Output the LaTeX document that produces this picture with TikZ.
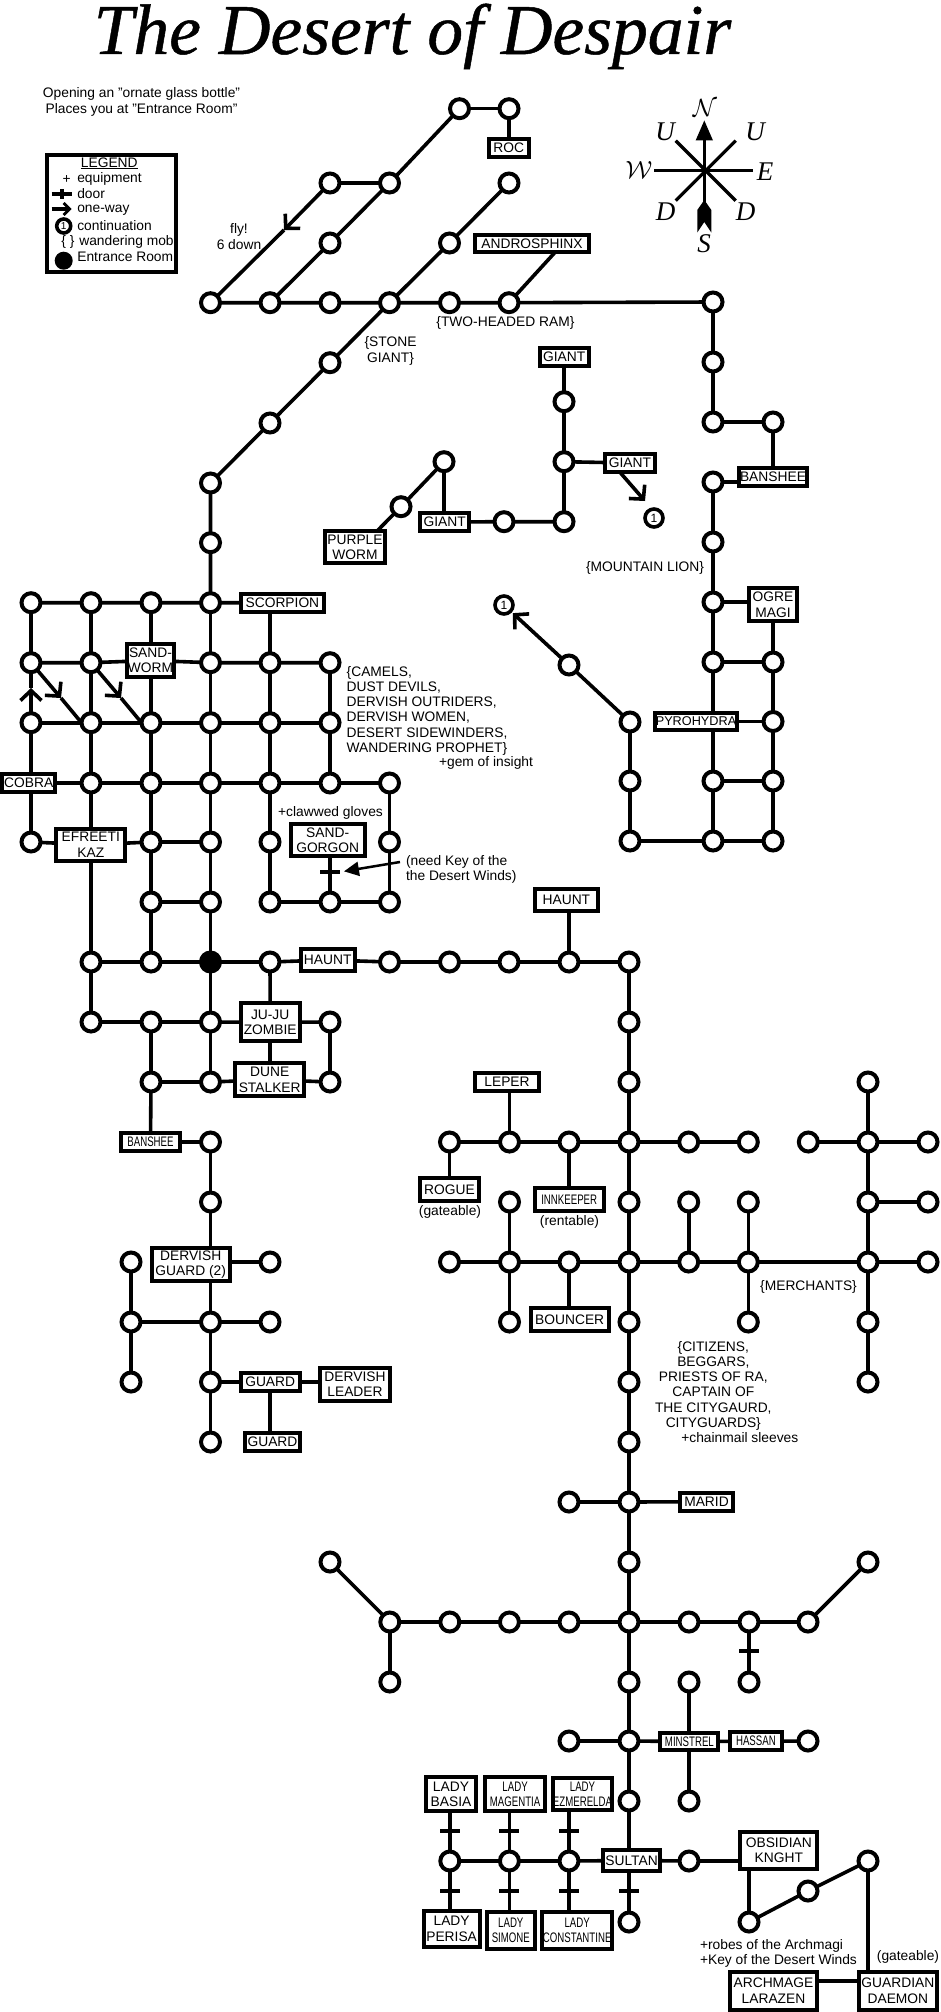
\documentclass[tikz,border=0pt]{standalone}
\usepackage{fontspec}
\usepackage{tikz}
\usetikzlibrary{arrows.meta}
\setmainfont{Liberation Sans}
\newfontfamily\titlefont{Liberation Serif}
\newfontfamily\bannerfont[ItalicFeatures={FakeBold=0.7}]{Liberation Serif}
\newfontfamily\narrowfont[FakeStretch=0.7]{Liberation Sans}
\newcommand{\mapfont}{\fontsize{13.8}{15.3}\selectfont}
\newcommand{\slimfont}{\narrowfont\fontsize{13.8}{15.3}\selectfont}

\begin{document}
\begin{tikzpicture}[x=1pt, y=-1pt,
    room/.style={circle, draw, line width=4pt, fill=white, minimum size=19pt, inner sep=0pt, outer sep=0pt},
    entrance/.style={room, fill=black},
    cont/.style={circle, draw, line width=3.6pt, fill=white, minimum size=18pt, inner sep=0pt, outer sep=0pt, font=\fontsize{12}{12}\selectfont},
    mob/.style={rectangle, draw, line width=4pt, fill=white, inner sep=0pt, outer sep=0pt, align=center, font=\mapfont},
    slim/.style={font=\slimfont},
    door/.style={rectangle, fill=black, minimum width=20pt, minimum height=3.6pt, inner sep=0pt, outer sep=0pt},
    note/.style={inner sep=0pt, outer sep=0pt, align=center, font=\mapfont},
    compassmark/.style={inner sep=0pt, font=\titlefont\itshape\fontsize{27}{27}\selectfont},
    link/.style={line width=3.6pt},
    oneway/.style={-{Straight Barb[length=10pt,width=21pt,line width=3.6pt]}}
]
\useasboundingbox (0,0) rectangle (940,2012);

% title and notes
\node[inner sep=0pt, anchor=base, font=\bannerfont\itshape\fontsize{71.5}{72}\selectfont] (title) at (412.5,54) {The Desert of Despair};
\node[note] (bottle) at (141.5,102) {Opening an "ornate glass bottle"\\Places you at "Entrance Room"};

% legend
\node[mob, minimum width=128.4pt, minimum height=117.6pt] (legend) at (111.5,213.5) {};
\node[note] (legendhead) at (109.3,163.3) {\underline{LEGEND}};
\node[note] (plusmark) at (66.7,179.3) {+};
\node[note, anchor=west] (legequip) at (77.3,179.3) {equipment};
\node[note, anchor=west] (legdoor) at (77.3,194) {door};
\node[note, anchor=west] (legoneway) at (77.3,210) {one-way};
\node[cont, minimum size=14pt, font=\fontsize{10}{10}\selectfont] (legcont) at (63.7,226) {1};
\node[note, anchor=west] (legconttext) at (77.3,225.7) {continuation};
\node[note] (legbrace) at (68,241.7) {\{ \}};
\node[note, anchor=west] (legmob) at (79.3,241.7) {wandering mob};
\node[circle, fill=black, minimum size=18pt, inner sep=0pt] (legentrance) at (63.7,260.7) {};
\node[note, anchor=west] (legentrancetext) at (77.3,256.7) {Entrance Room};
\draw[line width=3.2pt] (51.7,194) -- (71.7,194);
\draw[line width=3.2pt] (62,189) -- (62,199);
\draw[line width=3.2pt, -{Straight Barb[length=6pt,width=12pt,line width=2.8pt]}] (51.7,209) -- (71.7,209);

% compass
\node[compassmark, font=\fontsize{27}{27}\selectfont] (markN) at (705,108) {$\mathcal{N}$};
\node[compassmark] (markUa) at (665,132) {U};
\node[compassmark] (markUb) at (755,132) {U};
\node[compassmark, font=\fontsize{27}{27}\selectfont] (markW) at (639,170) {$\mathcal{W}$};
\node[compassmark] (markE) at (765,172) {E};
\node[compassmark] (markDa) at (665.7,212) {D};
\node[compassmark] (markDb) at (745.7,212) {D};
\node[compassmark] (markS) at (704,244) {S};
\draw[line width=3.2pt] (704.3,140) -- (704.3,205);
\draw[line width=3.2pt] (654.3,170.7) -- (753.3,170.7);
\draw[line width=3.2pt] (675.7,140.7) -- (735.7,200.7);
\draw[line width=3.2pt] (735.7,140.7) -- (675.7,200.7);
\fill (704.3,120.5) -- (713,140.5) -- (695.6,140.5) -- cycle;
\fill (704.3,200) -- (711.3,210) -- (711.3,232.5) -- (704.3,222) -- (697.3,232.5) -- (697.3,210) -- cycle;

% rooms, top
\node[room] (u0) at (459.5,108.7) {};
\node[room] (i0) at (509,108.7) {};
\node[room] (f1) at (330,183) {};
\node[room] (g1) at (389.5,183) {};
\node[room] (i1) at (509,183) {};
\node[room] (f2) at (330,243) {};
\node[room] (h2) at (449.5,243) {};
\node[room] (d3) at (210.5,302.7) {};
\node[room] (e3) at (270,302.7) {};
\node[room] (f3) at (330,302.7) {};
\node[room] (g3) at (389.5,302.7) {};
\node[room] (h3) at (449.5,302.7) {};
\node[room] (i3) at (509,302.7) {};
\node[room] (q3) at (713,302) {};
\node[room] (f4) at (330,362.7) {};
\node[room] (e5) at (270,423) {};
\node[room] (d6) at (210.5,483) {};
\node[room] (d7) at (210.5,542.7) {};

% rooms, giants
\node[room] (s4) at (564,401.7) {};
\node[room] (s5) at (564,461.7) {};
\node[room] (s7) at (564,521.7) {};
\node[room] (h7) at (504,521.7) {};
\node[room] (v5) at (444,461.7) {};
\node[room] (w6) at (401,506.7) {};
\node[cont] (conta) at (654,518) {1};
\node[cont] (contb) at (504,605) {1};

% rooms, east
\node[room] (q4) at (713,362) {};
\node[room] (q5) at (713,422) {};
\node[room] (r5) at (773,422) {};
\node[room] (q6) at (713,482) {};
\node[room] (q7) at (713,542) {};
\node[room] (q8) at (713,602) {};
\node[room] (q9) at (713,662) {};
\node[room] (r9) at (773,662) {};
\node[room] (r10) at (773,721.5) {};
\node[room] (q11) at (713,781) {};
\node[room] (r11) at (773,781) {};
\node[room] (q12) at (713,841) {};
\node[room] (r12) at (773,841) {};
\node[room] (j9) at (569,665) {};
\node[room] (k10) at (630,722) {};
\node[room] (k11) at (630,781) {};
\node[room] (k12) at (630,841) {};

% rooms, grid
\node[room] (a8) at (31,602.7) {};
\node[room] (b8) at (91,602.7) {};
\node[room] (c8) at (151,602.7) {};
\node[room] (d8) at (210.5,602.7) {};
\node[room] (a9) at (31,662.7) {};
\node[room] (b9) at (91,662.7) {};
\node[room] (d9) at (210.5,662.7) {};
\node[room] (e9) at (270,662.7) {};
\node[room] (f9) at (330,662.7) {};
\node[room] (a10) at (31,722.7) {};
\node[room] (b10) at (91,722.7) {};
\node[room] (c10) at (151,722.7) {};
\node[room] (d10) at (210.5,722.7) {};
\node[room] (e10) at (270,722.7) {};
\node[room] (f10) at (330,722.7) {};
\node[room] (b11) at (91,783) {};
\node[room] (c11) at (151,783) {};
\node[room] (d11) at (210.5,783) {};
\node[room] (e11) at (270,783) {};
\node[room] (f11) at (330,783) {};
\node[room] (g11) at (389.5,783) {};
\node[room] (a12) at (31,842) {};
\node[room] (c12) at (151,842) {};
\node[room] (d12) at (210.5,842) {};
\node[room] (e12) at (270,842) {};
\node[room] (g12) at (389.5,842) {};
\node[room] (c13) at (151,902) {};
\node[room] (d13) at (210.5,902) {};
\node[room] (e13) at (270,902) {};
\node[room] (f13) at (330,902) {};
\node[room] (g13) at (389.5,902) {};
\node[room] (b14) at (91,962) {};
\node[room] (c14) at (151,962) {};
\node[entrance] (d14) at (210.5,962) {};
\node[room] (e14) at (270,962) {};
\node[room] (g14) at (389.5,962) {};
\node[room] (h14) at (449.5,962) {};
\node[room] (i14) at (509,962) {};
\node[room] (j14) at (569,962) {};
\node[room] (k14) at (629,962) {};

% rooms, south west
\node[room] (b15) at (91,1022) {};
\node[room] (c15) at (151,1022) {};
\node[room] (d15) at (210.5,1022) {};
\node[room] (f15) at (330,1022) {};
\node[room] (c16) at (151,1082) {};
\node[room] (d16) at (210.5,1082) {};
\node[room] (f16) at (330,1082) {};
\node[room] (d17) at (210.5,1142) {};
\node[room] (d18) at (210.5,1202) {};
\node[room] (t19) at (131,1262) {};
\node[room] (e19) at (270,1262) {};
\node[room] (t20) at (131,1322) {};
\node[room] (d20) at (210.5,1322) {};
\node[room] (e20) at (270,1322) {};
\node[room] (t21) at (131,1382) {};
\node[room] (d21) at (210.5,1382) {};
\node[room] (d22) at (210.5,1442) {};

% rooms, city
\node[room] (k15) at (629,1022) {};
\node[room] (k16) at (629,1082) {};
\node[room] (o16) at (868,1082) {};
\node[room] (h17) at (449.5,1142) {};
\node[room] (i17) at (509.5,1142) {};
\node[room] (j17) at (569,1142) {};
\node[room] (k17) at (629,1142) {};
\node[room] (l17) at (688.7,1142) {};
\node[room] (m17) at (748.3,1142) {};
\node[room] (n17) at (808.3,1142) {};
\node[room] (o17) at (868,1142) {};
\node[room] (p17) at (928,1142) {};
\node[room] (i18) at (509.5,1202) {};
\node[room] (k18) at (629,1202) {};
\node[room] (l18) at (688.7,1202) {};
\node[room] (m18) at (748.3,1202) {};
\node[room] (o18) at (868,1202) {};
\node[room] (p18) at (928,1202) {};
\node[room] (h19) at (449.5,1262) {};
\node[room] (i19) at (509.5,1262) {};
\node[room] (j19) at (569,1262) {};
\node[room] (k19) at (629,1262) {};
\node[room] (l19) at (688.7,1262) {};
\node[room] (m19) at (748.3,1262) {};
\node[room] (o19) at (868,1262) {};
\node[room] (p19) at (928,1262) {};
\node[room] (i20) at (509.5,1322) {};
\node[room] (k20) at (629,1322) {};
\node[room] (m20) at (748.3,1322) {};
\node[room] (o20) at (868,1322) {};
\node[room] (k21) at (629,1382) {};
\node[room] (o21) at (868,1382) {};
\node[room] (k22) at (629,1442) {};
\node[room] (j23) at (569,1502) {};
\node[room] (k23) at (629,1502) {};

% rooms, palace
\node[room] (f24) at (330,1562) {};
\node[room] (k24) at (629,1562) {};
\node[room] (o24) at (868,1562) {};
\node[room] (g25) at (389.8,1622) {};
\node[room] (h25) at (449.8,1622) {};
\node[room] (i25) at (509.4,1622) {};
\node[room] (j25) at (569,1622) {};
\node[room] (k25) at (629,1622) {};
\node[room] (l25) at (689,1622) {};
\node[room] (m25) at (749,1622) {};
\node[room] (n25) at (808,1622) {};
\node[room] (g26) at (389.8,1682) {};
\node[room] (k26) at (629,1682) {};
\node[room] (l26) at (689,1682) {};
\node[room] (m26) at (749,1682) {};
\node[room] (j27) at (569,1741) {};
\node[room] (k27) at (629,1741) {};
\node[room] (n27) at (808,1741) {};
\node[room] (k28) at (629,1801) {};
\node[room] (l28) at (689,1801) {};
\node[room] (h29) at (449.8,1861) {};
\node[room] (i29) at (509.4,1861) {};
\node[room] (j29) at (569,1861) {};
\node[room] (l29) at (689,1861) {};
\node[room] (o29) at (868,1861) {};
\node[room] (n30) at (808,1891) {};
\node[room] (k31) at (629,1922) {};
\node[room] (m31) at (749,1922) {};

% mobs
\node[mob, minimum width=40pt, minimum height=18pt] (roc) at (508.7,148) {ROC};
\node[mob, minimum width=113.4pt, minimum height=17.3pt] (sphinx) at (532,243.7) {ANDROSPHINX};
\node[mob, minimum width=49pt, minimum height=18.3pt] (gianta) at (564.2,357.2) {GIANT};
\node[mob, minimum width=49.4pt, minimum height=18.6pt] (giantb) at (630,463) {GIANT};
\node[mob, minimum width=48.6pt, minimum height=18pt] (giantc) at (444.7,522) {GIANT};
\node[mob, minimum width=60.6pt, minimum height=31.6pt] (purple) at (355,547.2) {PURPLE\\WORM};
\node[mob, minimum width=68.6pt, minimum height=18.3pt] (bansheea) at (773,477.2) {BANSHEE};
\node[mob, minimum width=48.6pt, minimum height=33.3pt] (ogre) at (773,604.7) {OGRE\\MAGI};
\node[mob, minimum width=82.6pt, minimum height=17.6pt, font=\fontsize{12.7}{15}\selectfont] (pyro) at (696,721.5) {PYROHYDRA};
\node[mob, minimum width=83.3pt, minimum height=18.3pt] (scorpion) at (282.4,602.9) {SCORPION};
\node[mob, minimum width=47pt, minimum height=33pt] (sandworm) at (150.5,660.5) {SAND-\\WORM};
\node[mob, minimum width=53.3pt, minimum height=18.3pt] (cobra) at (28.7,782.9) {COBRA};
\node[mob, minimum width=69pt, minimum height=32pt] (efreeti) at (90.8,844.7) {EFREETI\\KAZ};
\node[mob, minimum width=74pt, minimum height=32.6pt] (gorgon) at (327.7,840) {SAND-\\GORGON};
\node[mob, minimum width=54pt, minimum height=21.4pt] (haunta) at (327.7,960) {HAUNT};
\node[mob, minimum width=63.3pt, minimum height=22pt] (hauntb) at (566.4,900.3) {HAUNT};
\node[mob, minimum width=59pt, minimum height=38.3pt] (juju) at (270.2,1022.2) {JU-JU\\ZOMBIE};
\node[mob, minimum width=68.6pt, minimum height=33.3pt] (dune) at (269.7,1079.7) {DUNE\\STALKER};
\node[mob, slim, minimum width=58.4pt, minimum height=18.6pt] (bansheeb) at (150.5,1142) {BANSHEE};
\node[mob, minimum width=78pt, minimum height=33.3pt] (dervish) at (190.7,1264.7) {DERVISH\\GUARD (2)};
\node[mob, minimum width=59pt, minimum height=18.6pt] (guarda) at (270.2,1382) {GUARD};
\node[mob, minimum width=69.4pt, minimum height=33.6pt] (leader) at (355,1384.5) {DERVISH\\LEADER};
\node[mob, minimum width=54.4pt, minimum height=18.6pt] (guardb) at (272.5,1442) {GUARD};
\node[mob, minimum width=63.4pt, minimum height=18.3pt] (leper) at (507,1082.2) {LEPER};
\node[mob, minimum width=58.4pt, minimum height=23.6pt] (rogue) at (449.5,1189.5) {ROGUE};
\node[mob, slim, minimum width=69pt, minimum height=23.6pt] (innkeeper) at (569.2,1199.5) {INNKEEPER};
\node[mob, minimum width=78pt, minimum height=23.6pt] (bouncer) at (569.7,1319.5) {BOUNCER};
\node[mob, minimum width=53pt, minimum height=18pt] (marid) at (706.5,1501.7) {MARID};
\node[mob, slim, minimum width=58pt, minimum height=17.6pt] (minstrel) at (689.4,1741.5) {MINSTREL};
\node[mob, slim, minimum width=52.2pt, minimum height=18.3pt] (hassan) at (755.9,1741.2) {HASSAN};
\node[mob, minimum width=50.6pt, minimum height=34.3pt] (basia) at (451,1794.2) {LADY\\BASIA};
\node[mob, slim, minimum width=60.4pt, minimum height=34.3pt] (magentia) at (515.1,1794.2) {LADY\\MAGENTIA};
\node[mob, slim, minimum width=59.6pt, minimum height=32pt] (ezmerelda) at (582.5,1794) {LADY\\EZMERELDA};
\node[mob, minimum width=56.8pt, minimum height=21.6pt] (sultan) at (631.6,1860.5) {SULTAN};
\node[mob, minimum width=76.8pt, minimum height=36.6pt] (obsidian) at (778.8,1850.4) {OBSIDIAN\\KNGHT};
\node[mob, minimum width=56pt, minimum height=36.3pt] (perisa) at (451.6,1928.9) {LADY\\PERISA};
\node[mob, slim, minimum width=47.8pt, minimum height=37pt] (simone) at (510.8,1930.5) {LADY\\SIMONE};
\node[mob, slim, minimum width=70.3pt, minimum height=37pt] (constantine) at (577.2,1930.5) {LADY\\CONSTANTINE};
\node[mob, minimum width=87.4pt, minimum height=37.6pt] (archmage) at (773.5,1990.8) {ARCHMAGE\\LARAZEN};
\node[mob, minimum width=77.8pt, minimum height=37.6pt] (guardian) at (897.9,1990.8) {GUARDIAN\\DAEMON};

% connectors, top
\draw[link] (u0) -- (i0);
\draw[link] (i0) -- (i0 |- roc.north);
\draw[link] (f1) -- (g1);
\draw[link] (g1) -- (u0);
\draw[link] (d3) -- (e3) -- (f3) -- (g3) -- (h3) -- (i3) -- (q3);
\coordinate (flyhead) at (284,230);
\draw[link, oneway] (f1) -- (flyhead);
\draw[link] (flyhead) -- (d3);
\draw[link] (e3) -- (f2) -- (g1);
\draw[link] (g3) -- (h2) -- (i1);
\draw[link] (i3) -- ([xshift=23pt]sphinx.south);
\draw[link] (g3) -- (f4) -- (e5) -- (d6) -- (d7) -- (d8);

% connectors, giants
\draw[link] (s5) -- (s4);
\draw[link] (s4) -- (s4 |- gianta.south);
\draw[link] (s5) -- (giantb);
\draw[link] (s5) -- (s7) -- (h7) -- (giantc);
\draw[link] (giantc.north -| v5) -- (v5);
\draw[link] (v5) -- (w6);
\draw[link] (w6) -- ([xshift=21.7pt]purple.north);
\coordinate (giantarrow) at (645,501);
\draw[link, oneway] ([xshift=-10pt]giantb.south) -- (giantarrow);

% connectors, east
\draw[link] (q3) -- (q4) -- (q5) -- (r5);
\draw[link] (r5) -- (r5 |- bansheea.north);
\draw[link] (q6) -- (q6 -| bansheea.west);
\draw[link] (q6) -- (q7) -- (q8) -- (q9) -- (r9);
\draw[link] (q8) -- (q8 -| ogre.west);
\draw[link] (r9 |- ogre.south) -- (r9);
\draw[link] (q9) -- (q9 |- pyro.north);
\draw[link] (pyro) -- (r10);
\draw[link] (q11 |- pyro.south) -- (q11);
\draw[link] (r9) -- (r10) -- (r11) -- (r12);
\draw[link] (q11) -- (r11);
\draw[link] (q11) -- (q12) -- (r12);
\draw[link] (k10) -- (k11) -- (k12) -- (q12);
\draw[link] (k10) -- (j9);
\draw[link, oneway, shorten >=3pt] (j9) -- (contb);

% connectors, grid
\draw[link] (a8) -- (b8) -- (c8) -- (d8) -- (scorpion);
\draw[link] (a9) -- (b9) -- (sandworm) -- (d9) -- (e9) -- (f9);
\draw[link] (a10) -- (b10) -- (c10) -- (d10) -- (e10) -- (f10);
\draw[link] (cobra) -- (b11) -- (c11) -- (d11) -- (e11) -- (f11) -- (g11);
\draw[link] (a12) -- (efreeti) -- (c12) -- (d12);
\draw[link] (c13) -- (d13);
\draw[link] (e13) -- (f13) -- (g13);
\draw[link] (b14) -- (c14) -- (d14) -- (e14) -- (haunta) -- (g14) -- (h14) -- (i14) -- (j14) -- (k14);
\draw[link] (a8) -- (a9);
\coordinate (upwardhead) at (31,688);
\draw[link] (upwardhead) -- (a9);
\draw[link, oneway] (a10) -- (upwardhead);
\draw[link] (a10) -- (a10 |- cobra.north);
\draw[link] (a10 |- cobra.south) -- (a12);
\draw[link] (b8) -- (b9) -- (b10) -- (b11) -- (b11 |- efreeti.north);
\draw[link] (b14 |- efreeti.south) -- (b14);
\draw[link] (c8) -- (c8 |- sandworm.north);
\draw[link] (c10 |- sandworm.south) -- (c10);
\draw[link] (c10) -- (c11) -- (c12) -- (c13) -- (c14);
\draw[link] (c15) -- (c16);
\draw[link] (d8) -- (d9) -- (d10) -- (d11) -- (d12) -- (d13) -- (d14) -- (d15) -- (d16);
\draw[link] (e9 |- scorpion.south) -- (e9);
\draw[link] (e9) -- (e10) -- (e11) -- (e12) -- (e13);
\draw[link] (f9) -- (f10) -- (f11);
\draw[link] (g11) -- (g12) -- (g13);
\coordinate (slanta) at (61,698);
\coordinate (slantb) at (121,698);
\draw[link, oneway] (a9) -- (slanta);
\draw[link] (slanta) -- (b10.west);
\draw[link, oneway] (b9) -- (slantb);
\draw[link] (slantb) -- (c10.west);
\draw[link] (f13 |- gorgon.south) -- (f13);
\node[door] (gorgondoor) at (330,872) {};
\node[note, align=left, anchor=north west] (keynote) at (406,855) {(need Key of the\\the Desert Winds)};
\coordinate (keyfrom) at (400,862);
\draw[line width=2.5pt, -{Triangle[length=15pt,width=14pt]}, shorten >=4pt] (keyfrom) -- (gorgondoor.east);
\draw[link] (j14) -- (j14 |- hauntb.south);

% connectors, south west
\draw[link] (e14) -- (juju);
\draw[link] (b14) -- (b15) -- (c15) -- (d15) -- (juju) -- (f15) -- (f16);
\draw[link] (c16) -- (d16) -- (dune) -- (f16);
\draw[link] (juju.south -| dune) -- (dune);
\draw[link] (c16) -- (bansheeb);
\draw[link] (bansheeb) -- (d17) -- (d18) -- (d18 |- dervish.north);
\draw[link] (d20 |- dervish.south) -- (d20);
\draw[link] (dervish.east |- e19) -- (e19);
\draw[link] (t19) -- (t20) -- (t21);
\draw[link] (t20) -- (d20) -- (e20);
\draw[link] (d20) -- (d21) -- (d22);
\draw[link] (d21) -- (guarda);
\draw[link] (guarda) -- (leader.west |- guarda);
\draw[link] (guarda) -- (guarda |- guardb.north);

% connectors, city
\draw[link] (k14) -- (k15) -- (k16) -- (k17) -- (k18) -- (k19) -- (k20) -- (k21) -- (k22) -- (k23) -- (k24) -- (k25) -- (k26) -- (k27) -- (k28);
\draw[link] (h17) -- (i17) -- (j17) -- (k17) -- (l17) -- (m17);
\draw[link] (n17) -- (o17) -- (p17);
\draw[link] (h17) -- (h17 |- rogue.north);
\draw[link] (i17) -- (i17 |- leper.south);
\draw[link] (j17) -- (j17 |- innkeeper.north);
\draw[link] (h19) -- (i19) -- (j19) -- (k19) -- (l19) -- (m19) -- (o19) -- (p19);
\draw[link] (i18) -- (i19) -- (i20);
\draw[link] (j19) -- (j19 |- bouncer.north);
\draw[link] (l18) -- (l19);
\draw[link] (m18) -- (m19) -- (m20);
\draw[link] (o16) -- (o17) -- (o18) -- (o19) -- (o20) -- (o21);
\draw[link] (o18) -- (p18);
\draw[link] (j23) -- (k23) -- (marid);

% connectors, palace
\draw[link] (f24) -- (g25) -- (h25) -- (i25) -- (j25) -- (k25) -- (l25) -- (m25) -- (n25) -- (o24);
\draw[link] (g25) -- (g26);
\draw[link] (m25) -- (m26);
\node[door] (doorm) at (749,1651) {};
\draw[link] (j27) -- (k27) -- (minstrel) -- (hassan) -- (n27);
\draw[link] (l26) -- (l26 |- minstrel.north);
\draw[link] (l28 |- minstrel.south) -- (l28);
\draw[link] (k28) -- (k28 |- sultan.north);
\draw[link] (h29) -- (i29) -- (j29) -- (sultan) -- (l29) -- (l29 -| obsidian.west);
\draw[link] (h29 |- basia.south) -- (h29);
\draw[link] (i29 |- magentia.south) -- (i29);
\draw[link] (j29 |- ezmerelda.south) -- (j29);
\draw[link] (h29) -- (h29 |- perisa.north);
\draw[link] (i29) -- (i29 |- simone.north);
\draw[link] (j29) -- (j29 |- constantine.north);
\draw[link] (k31 |- sultan.south) -- (k31);
\node[door] (doora) at (449.8,1831) {};
\node[door] (doorb) at (509.4,1831) {};
\node[door] (doorc) at (568.6,1831) {};
\node[door] (doord) at (449.8,1891) {};
\node[door] (doore) at (509.4,1891) {};
\node[door] (doorf) at (568.6,1891) {};
\node[door] (doorg) at (628.6,1891) {};
\draw[link] (m31 |- obsidian.south) -- (m31);
\draw[link] (m31) -- (n30) -- (o29);
\draw[link] (o29) -- (o29 |- guardian.north);
\draw[link] ([yshift=10pt]archmage.east) -- ([yshift=10pt]guardian.west);

% notes
\node[note] (flynote) at (239,236.7) {fly!\\6 down};
\node[note] (stonenote) at (390.5,351) {\{STONE\\GIANT\}};
\node[note] (ramnote) at (505.4,323) {\{TWO-HEADED RAM\}};
\node[note] (lionnote) at (645,568) {\{MOUNTAIN LION\}};
\node[note, align=left, anchor=north west] (camelnote) at (346.7,666) {\{CAMELS,\\DUST DEVILS,\\DERVISH OUTRIDERS,\\DERVISH WOMEN,\\DESERT SIDEWINDERS,\\WANDERING PROPHET\}};
\node[note] (gemnote) at (486,763.3) {+gem of insight};
\node[note] (clawnote) at (330.5,813.3) {+clawwed gloves};
\node[note] (roguenote) at (450,1212.3) {(gateable)};
\node[note] (innnote) at (569.5,1222.3) {(rentable)};
\node[note] (merchantnote) at (808.5,1287.3) {\{MERCHANTS\}};
\node[note] (citizennote) at (713.3,1385.7) {\{CITIZENS,\\BEGGARS,\\PRIESTS OF RA,\\CAPTAIN OF\\THE CITYGAURD,\\CITYGUARDS\}};
\node[note] (sleevenote) at (739.8,1437.3) {+chainmail sleeves};
\node[note, align=left, anchor=north west] (robenote) at (700,1939) {+robes of the Archmagi\\+Key of the Desert Winds};
\node[note] (guardiannote) at (908,1956.7) {(gateable)};

\end{tikzpicture}
\end{document}
